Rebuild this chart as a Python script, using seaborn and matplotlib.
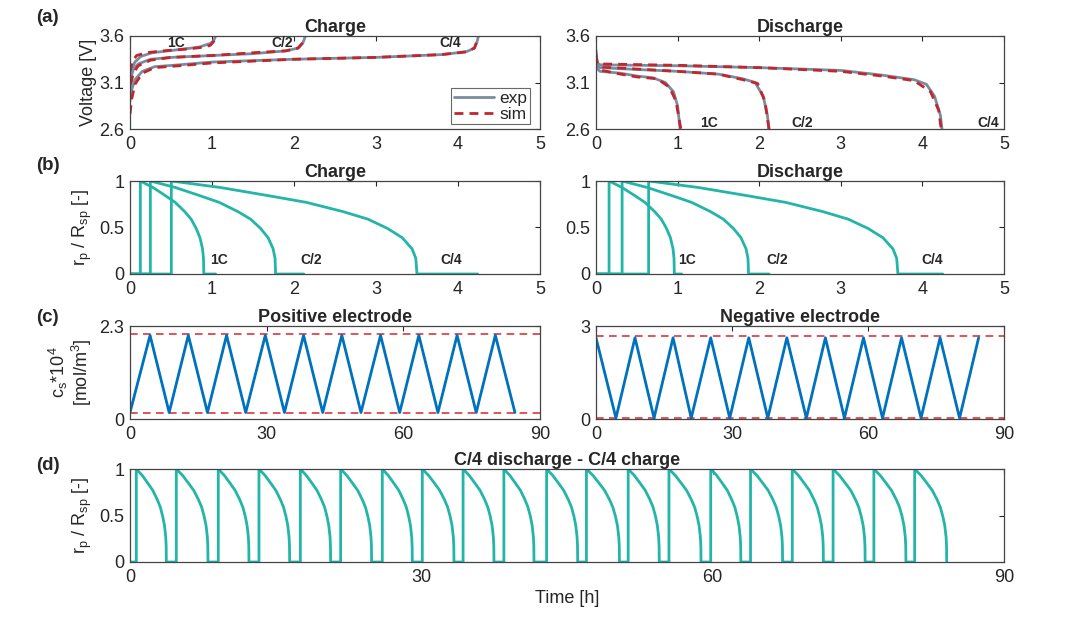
import matplotlib
matplotlib.use('Agg')
import matplotlib.pyplot as plt
import seaborn as sns

# ---------------- data ----------------
# (a) charge curves: capacity [Ah] vs voltage [V]
chg_1c_exp_x = [0, 0.01, 0.03, 0.06, 0.13, 0.27, 0.56, 0.84, 0.98, 1.02, 1.045]
chg_1c_exp_y = [3.02, 3.15, 3.26, 3.32, 3.38, 3.42, 3.45, 3.48, 3.52, 3.55, 3.6]
chg_1c_sim_x = [0, 0.01, 0.03, 0.08, 0.2, 0.4, 0.7, 0.9, 0.98, 1.02, 1.04]
chg_1c_sim_y = [3.05, 3.25, 3.33, 3.39, 3.42, 3.44, 3.46, 3.48, 3.5, 3.54, 3.58]
chg_c2_exp_x = [0, 0.01, 0.04, 0.1, 0.25, 0.5, 1.0, 1.5, 1.9, 2.05, 2.11, 2.14]
chg_c2_exp_y = [3.05, 3.15, 3.24, 3.30, 3.35, 3.37, 3.39, 3.41, 3.44, 3.47, 3.53, 3.6]
chg_c2_sim_x = [0, 0.01, 0.04, 0.1, 0.25, 0.5, 1.0, 1.5, 1.9, 2.05, 2.1, 2.13]
chg_c2_sim_y = [2.92, 3.08, 3.2, 3.28, 3.34, 3.37, 3.39, 3.42, 3.44, 3.47, 3.52, 3.58]
chg_c4_exp_x = [0, 0.02, 0.06, 0.15, 0.3, 0.6, 1.0, 2.0, 3.0, 3.8, 4.1, 4.2, 4.23, 4.25]
chg_c4_exp_y = [2.9, 3.02, 3.13, 3.22, 3.27, 3.29, 3.32, 3.35, 3.37, 3.40, 3.43, 3.47, 3.53, 3.6]
chg_c4_sim_x = [0, 0.02, 0.06, 0.15, 0.3, 0.6, 1.0, 2.0, 3.0, 3.8, 4.1, 4.2, 4.24]
chg_c4_sim_y = [2.76, 2.92, 3.08, 3.2, 3.26, 3.28, 3.31, 3.35, 3.37, 3.40, 3.43, 3.47, 3.57]

# (a) discharge curves
dis_1c_exp_x = [0, 0.01, 0.05, 0.3, 0.5, 0.7, 0.85, 0.95, 1.0, 1.03]
dis_1c_exp_y = [3.40, 3.25, 3.22, 3.20, 3.17, 3.15, 3.10, 3.0, 2.85, 2.6]
dis_1c_sim_x = [0, 0.02, 0.3, 0.5, 0.75, 0.9, 0.98, 1.04]
dis_1c_sim_y = [3.35, 3.24, 3.19, 3.16, 3.14, 3.05, 2.9, 2.6]
dis_c2_exp_x = [0, 0.01, 0.05, 0.5, 1.0, 1.5, 1.8, 1.95, 2.05, 2.1, 2.12]
dis_c2_exp_y = [3.42, 3.28, 3.26, 3.24, 3.22, 3.19, 3.14, 3.10, 2.95, 2.75, 2.6]
dis_c2_sim_x = [0, 0.02, 0.5, 1.0, 1.5, 1.8, 1.98, 2.07, 2.12]
dis_c2_sim_y = [3.38, 3.27, 3.245, 3.22, 3.19, 3.13, 3.09, 2.9, 2.6]
dis_c4_exp_x = [0, 0.01, 0.05, 1.0, 2.0, 3.0, 3.5, 3.9, 4.05, 4.15, 4.22, 4.24]
dis_c4_exp_y = [3.45, 3.31, 3.29, 3.28, 3.26, 3.23, 3.18, 3.13, 3.08, 2.95, 2.75, 2.6]
dis_c4_sim_x = [0, 0.02, 1.0, 2.0, 3.0, 3.5, 3.9, 4.1, 4.2, 4.23]
dis_c4_sim_y = [3.40, 3.30, 3.285, 3.26, 3.22, 3.17, 3.12, 3.0, 2.8, 2.6]

rate_labels = ['1C', 'C/2', 'C/4']

# (b) shrinking-core front: profile of r_p/R_sp over the moving part
front_frac = [0, 0.2, 0.4, 0.55, 0.7, 0.8, 0.88, 0.94, 0.98, 0.995, 1.0]
front_r = [1, 0.93, 0.84, 0.77, 0.67, 0.59, 0.49, 0.39, 0.27, 0.17, 0]
chg_start = [0.126, 0.248, 0.504]
chg_zero = [0.90, 1.776, 3.50]
chg_end = [1.045, 2.12, 4.24]
dis_start = [0.16, 0.32, 0.645]
dis_zero = [0.96, 1.87, 3.70]
dis_end = [1.05, 2.12, 4.25]

# (c) surface concentration, c_s*1e4 [mol/m3] vs time [h]
pos_t = [0, 4.4, 8.6, 12.8, 17.0, 21.2, 25.4, 29.7, 33.9, 38.1, 42.3,
         46.5, 50.7, 55.0, 59.2, 63.4, 67.6, 71.8, 76.0, 80.2, 84.5]
pos_c = [0.16, 2.07] * 10 + [0.16]
pos_limits = [0.16, 2.11]
neg_t = [0, 4.4, 8.6, 12.8, 17.0, 21.0, 25.3, 29.5, 33.7, 37.9, 42.1,
         46.4, 50.6, 54.8, 59.0, 63.2, 67.4, 71.7, 75.9, 80.2, 84.4]
neg_c = [2.62, 0.03] * 10 + [2.62]
neg_limits = [0.04, 2.67]

# (d) cycling, front onset and front end times [h]
cyc_start = [0.65, 4.77, 9.09, 13.28, 17.54, 21.69, 25.98, 30.1, 34.3, 38.5,
             42.9, 47.0, 51.3, 55.5, 59.8, 63.9, 68.2, 72.4, 76.6, 80.8]
cyc_zero = [3.74, 8.03, 12.25, 16.44, 20.66, 24.88, 29.07, 33.36, 37.48, 41.6,
            46.1, 50.4, 54.5, 58.8, 62.9, 67.2, 71.4, 75.7, 79.9, 84.1]

# ---------------- style ----------------
sns.set_style('white')
plt.rcParams['font.family'] = ['Liberation Sans', 'DejaVu Sans']
plt.rcParams['mathtext.fontset'] = 'custom'
plt.rcParams['mathtext.rm'] = 'Liberation Sans'
plt.rcParams['mathtext.it'] = 'Liberation Sans:italic'
plt.rcParams['mathtext.bf'] = 'Liberation Sans:bold'

EXP = '#7a8ca0'
SIM = '#c0272d'
TEAL = '#22b5a8'
BLUE = '#0072bd'
DRED = '#d9262b'
INK = '#262626'
FS = 13
TFS = 13
RFS = 10

fig = plt.figure(figsize=(10.76, 6.33), dpi=100)
W, H = 1076, 633


def make_ax(x0, x1, top, bot):
    return fig.add_axes([x0 / W, 1 - bot / H, (x1 - x0) / W, (bot - top) / H])


def style(ax):
    for s in ax.spines.values():
        s.set_color('#444444')
        s.set_linewidth(0.9)
    ax.tick_params(direction='in', top=True, right=True, length=3.5, width=0.8,
                   colors=INK, labelsize=FS)
    ax.tick_params(axis='x', pad=5)
    ax.tick_params(axis='y', pad=4)


def line(ax, x, y, color, lw=1.8, ls='-', label=None):
    sns.lineplot(x=x, y=y, ax=ax, color=color, lw=lw, linestyle=ls,
                 sort=False, estimator=None, label=label, legend=False)


def front_curve(start, zero, end, t0=0.0):
    xs = [t0, start] + [start + f * (zero - start) for f in front_frac] + [end]
    ys = [0, 0] + front_r + [0]
    return xs, ys


LX = [130, 540]
RX = [596, 1004]
rows = {'a': (36, 129), 'b': (181, 274), 'c': (326, 419), 'd': (469, 562)}

# ---- (a) ----
axa1 = make_ax(LX[0], LX[1], *rows['a'])
axa2 = make_ax(RX[0], RX[1], *rows['a'])
chg = [(chg_1c_exp_x, chg_1c_exp_y, chg_1c_sim_x, chg_1c_sim_y),
       (chg_c2_exp_x, chg_c2_exp_y, chg_c2_sim_x, chg_c2_sim_y),
       (chg_c4_exp_x, chg_c4_exp_y, chg_c4_sim_x, chg_c4_sim_y)]
dis = [(dis_1c_exp_x, dis_1c_exp_y, dis_1c_sim_x, dis_1c_sim_y),
       (dis_c2_exp_x, dis_c2_exp_y, dis_c2_sim_x, dis_c2_sim_y),
       (dis_c4_exp_x, dis_c4_exp_y, dis_c4_sim_x, dis_c4_sim_y)]
for ax, curves in [(axa1, chg), (axa2, dis)]:
    for i, (ex, ey, sx, sy) in enumerate(curves):
        line(ax, ex, ey, EXP, lw=2.0, label='exp' if i == 0 else None)
        line(ax, sx, sy, SIM, lw=2.0, ls=(0, (3.2, 2.2)), label='sim' if i == 0 else None)
    ax.set_xlim(0, 5)
    ax.set_ylim(2.6, 3.6)
    ax.set_xticks([0, 1, 2, 3, 4, 5])
    ax.set_yticks([2.6, 3.1, 3.6])
    style(ax)
axa1.set_title('Charge', fontsize=TFS, fontweight='bold', pad=3)
axa2.set_title('Discharge', fontsize=TFS, fontweight='bold', pad=3)
axa1.set_ylabel('Voltage [V]', fontsize=FS, color=INK, labelpad=2)
for lab, x in zip(rate_labels, [0.56, 1.86, 3.9]):
    axa1.text(x, 3.525, lab, fontsize=RFS, fontweight='bold', ha='center', va='center')
for lab, x in zip(rate_labels, [1.38, 2.53, 4.81]):
    axa2.text(x, 2.66, lab, fontsize=RFS, fontweight='bold', ha='center', va='center')
h, l = axa1.get_legend_handles_labels()
leg = axa1.legend(h, l, loc='lower right', bbox_to_anchor=(0.975, 0.05),
                  borderaxespad=0, fontsize=FS - 0.5, frameon=True, fancybox=False,
                  handlelength=2.3, handletextpad=0.3, borderpad=0.15,
                  labelspacing=0.05, edgecolor='#444444')
leg.get_frame().set_linewidth(0.8)

# ---- (b) ----
axb1 = make_ax(LX[0], LX[1], *rows['b'])
axb2 = make_ax(RX[0], RX[1], *rows['b'])
for ax, st, zr, en in [(axb1, chg_start, chg_zero, chg_end),
                       (axb2, dis_start, dis_zero, dis_end)]:
    for s, z, e in zip(st, zr, en):
        xs, ys = front_curve(s, z, e)
        line(ax, xs, ys, TEAL, lw=2.0)
    ax.set_xlim(0, 5)
    ax.set_ylim(0, 1)
    ax.set_xticks([0, 1, 2, 3, 4, 5])
    ax.set_yticks([0, 0.5, 1])
    ax.set_yticklabels(['0', '0.5', '1'])
    style(ax)
axb1.set_title('Charge', fontsize=TFS, fontweight='bold', pad=3)
axb2.set_title('Discharge', fontsize=TFS, fontweight='bold', pad=3)
axb1.set_ylabel(r'r$_\mathrm{p}$ / R$_\mathrm{sp}$ [-]', fontsize=FS, color=INK, labelpad=4)
for lab, x in zip(rate_labels, [1.085, 2.21, 3.92]):
    axb1.text(x, 0.15, lab, fontsize=RFS, fontweight='bold', ha='center', va='center')
for lab, x in zip(rate_labels, [1.11, 2.22, 4.12]):
    axb2.text(x, 0.15, lab, fontsize=RFS, fontweight='bold', ha='center', va='center')

# ---- (c) ----
axc1 = make_ax(LX[0], LX[1], *rows['c'])
axc2 = make_ax(RX[0], RX[1], *rows['c'])
for ax, t, c, lim, ymax in [(axc1, pos_t, pos_c, pos_limits, 2.3),
                            (axc2, neg_t, neg_c, neg_limits, 3)]:
    for v in lim:
        ax.axhline(v, color=DRED, lw=1.1, ls=(0, (5, 3.5)))
    line(ax, t, c, BLUE, lw=2.0)
    ax.set_xlim(0, 90)
    ax.set_ylim(0, ymax)
    ax.set_xticks([0, 30, 60, 90])
    ax.set_yticks([0, ymax])
    ax.set_yticklabels(['0', str(ymax)])
    style(ax)
axc1.set_title('Positive electrode', fontsize=TFS, fontweight='bold', pad=3)
axc2.set_title('Negative electrode', fontsize=TFS, fontweight='bold', pad=3)
axc1.set_ylabel('c$_\\mathrm{s}$*10$^4$\n[mol/m$^3$]', fontsize=FS, color=INK,
                labelpad=4, linespacing=1.0)

# ---- (d) ----
axd = make_ax(LX[0], RX[1], *rows['d'])
xs, ys = [0], [0]
for i, (s, z) in enumerate(zip(cyc_start, cyc_zero)):
    xs += [s] + [s + f * (z - s) for f in front_frac]
    ys += [0] + front_r
line(axd, xs, ys, TEAL, lw=2.0)
axd.set_xlim(0, 90)
axd.set_ylim(0, 1)
axd.set_xticks([0, 30, 60, 90])
axd.set_yticks([0, 0.5, 1])
axd.set_yticklabels(['0', '0.5', '1'])
style(axd)
axd.set_title('C/4 discharge - C/4 charge', fontsize=TFS, fontweight='bold', pad=3)
axd.set_ylabel(r'r$_\mathrm{p}$ / R$_\mathrm{sp}$ [-]', fontsize=FS, color=INK, labelpad=4)
axd.set_xlabel('Time [h]', fontsize=FS, color=INK, labelpad=3)

# panel letters
for lab, yc in [('(a)', 17), ('(b)', 165), ('(c)', 318), ('(d)', 465)]:
    fig.text(36 / W, 1 - yc / H, lab, fontsize=13.5, fontweight='bold',
             ha='left', va='center')

fig.savefig('out.png', dpi=100)
